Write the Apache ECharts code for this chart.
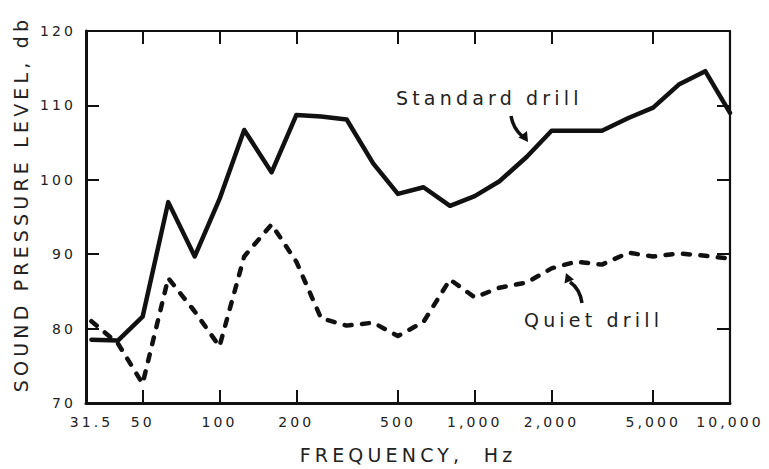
<!DOCTYPE html>
<html>
<head>
<meta charset="utf-8">
<script src="https://cdn.jsdelivr.net/npm/echarts@6/dist/echarts.min.js"></script>
<style>
  html, body { margin: 0; padding: 0; background: #fff; }
  #chart { width: 769px; height: 469px; }
  #chart svg text { letter-spacing: 0.22em; }
</style>
</head>
<body>
<div id="chart"></div>
<script>
// 1/3-octave band centre frequencies (Hz)
const freqs = [31.5, 40, 50, 63, 80, 100, 125, 160, 200, 250, 315, 400, 500, 630, 800, 1000, 1250, 1600, 2000, 2500, 3150, 4000, 5000, 6300, 8000, 10000];
// Sound pressure level, dB
const standardDrill = [78.5, 78.4, 81.6, 97.0, 89.7, 97.4, 106.7, 101.0, 108.7, 108.5, 108.1, 102.2, 98.1, 99.0, 96.5, 97.8, 99.8, 103.1, 106.6, 106.6, 106.6, 108.3, 109.7, 112.8, 114.6, 109.0];
const quietDrill = [81.0, 78.0, 72.6, 86.8, 82.3, 77.6, 89.7, 94.0, 89.0, 81.4, 80.4, 80.8, 79.0, 80.9, 86.6, 84.2, 85.5, 86.2, 88.1, 89.0, 88.6, 90.2, 89.7, 90.1, 89.8, 89.4];
// x tick labels
const xLabelValues = [31.5, 50, 100, 200, 500, 1000, 2000, 5000, 10000];
const xLabelTexts = ['31.5', '50', '100', '200', '500', '1,000', '2,000', '5,000', '10,000'];
const xTickValues = [50, 100, 200, 500, 1000, 2000, 5000];
const yMin = 70, yMax = 120, yStep = 10;

const ink = '#111';
const textInk = '#222';
const font = 'DejaVu Sans';

const chart = echarts.init(document.getElementById('chart'), null, { renderer: 'svg' });

function tickStyle(custom) {
  const t = { show: true, inside: true, length: 13, lineStyle: { color: ink, width: 2 } };
  if (custom) t.customValues = custom.slice();
  return t;
}

chart.setOption({
  animation: false,
  backgroundColor: '#fff',
  textStyle: { fontFamily: font },
  grid: { left: 86, right: 39, top: 31, bottom: 65 },
  xAxis: [
    {
      type: 'log', logBase: 10, min: 30, max: 10000, position: 'bottom',
      splitLine: { show: false },
      axisLine: { show: true, onZero: false, lineStyle: { color: ink, width: 3 } },
      axisTick: tickStyle(xTickValues),
      name: 'FREQUENCY,  Hz',
      nameLocation: 'middle',
      nameGap: 42,
      nameTextStyle: { fontFamily: font, fontSize: 19, color: textInk },
      axisLabel: {
        show: true, customValues: xLabelValues, margin: 12,
        fontFamily: font, fontSize: 14, color: textInk,
        formatter: function (v) {
          const i = xLabelValues.findIndex(x => Math.abs(x - v) < 1e-6 * v);
          return i >= 0 ? xLabelTexts[i] : '';
        }
      }
    },
    {
      type: 'log', logBase: 10, min: 30, max: 10000, position: 'top',
      splitLine: { show: false },
      axisLine: { show: true, onZero: false, lineStyle: { color: ink, width: 2.2 } },
      axisTick: tickStyle(xTickValues),
      axisLabel: { show: false }
    }
  ],
  yAxis: [
    {
      type: 'value', min: yMin, max: yMax, interval: yStep, position: 'left',
      name: 'SOUND PRESSURE LEVEL, db',
      nameLocation: 'middle',
      nameGap: 56,
      nameRotate: 90,
      nameTextStyle: { fontFamily: font, fontSize: 19, color: textInk, padding: [0, 0, 0, 26] },
      splitLine: { show: false },
      axisLine: { show: true, onZero: false, lineStyle: { color: ink, width: 3 } },
      axisTick: tickStyle(null),
      axisLabel: { show: true, margin: 10, fontFamily: font, fontSize: 14, color: textInk }
    },
    {
      type: 'value', min: yMin, max: yMax, interval: yStep, position: 'right',
      splitLine: { show: false },
      axisLine: { show: true, onZero: false, lineStyle: { color: ink, width: 2.2 } },
      axisTick: tickStyle(null),
      axisLabel: { show: false }
    }
  ],
  series: [
    {
      name: 'Standard drill', type: 'line', xAxisIndex: 0, yAxisIndex: 0,
      symbol: 'none', silent: true,
      data: freqs.map((f, i) => [f, standardDrill[i]]),
      lineStyle: { color: ink, width: 4.5, join: 'round', cap: 'round' }
    },
    {
      name: 'Quiet drill', type: 'line', xAxisIndex: 0, yAxisIndex: 0,
      symbol: 'none', silent: true,
      data: freqs.map((f, i) => [f, quietDrill[i]]),
      lineStyle: { color: ink, width: 4.5, type: [7, 10.5], join: 'round', cap: 'round' }
    }
  ],
  graphic: [
    { type: 'text', left: 396, top: 88, style: { text: 'Standard drill', fontFamily: font, fontSize: 19, fill: textInk } },
    { type: 'text', left: 524, top: 310, style: { text: 'Quiet drill', fontFamily: font, fontSize: 19, fill: textInk } },
    { type: 'bezierCurve', shape: { x1: 511, y1: 116, cpx1: 513, cpy1: 128, x2: 522, y2: 136 }, style: { stroke: ink, lineWidth: 3.5, fill: null } },
    { type: 'polygon', shape: { points: [[528, 142], [518.5, 137.5], [527, 131]] }, style: { fill: ink } },
    { type: 'bezierCurve', shape: { x1: 582, y1: 303, cpx1: 580, cpy1: 289, x2: 570, y2: 282 }, style: { stroke: ink, lineWidth: 3.5, fill: null } },
    { type: 'polygon', shape: { points: [[566, 273], [574, 279.5], [564.5, 283.5]] }, style: { fill: ink } }
  ]
});
</script>
</body>
</html>
